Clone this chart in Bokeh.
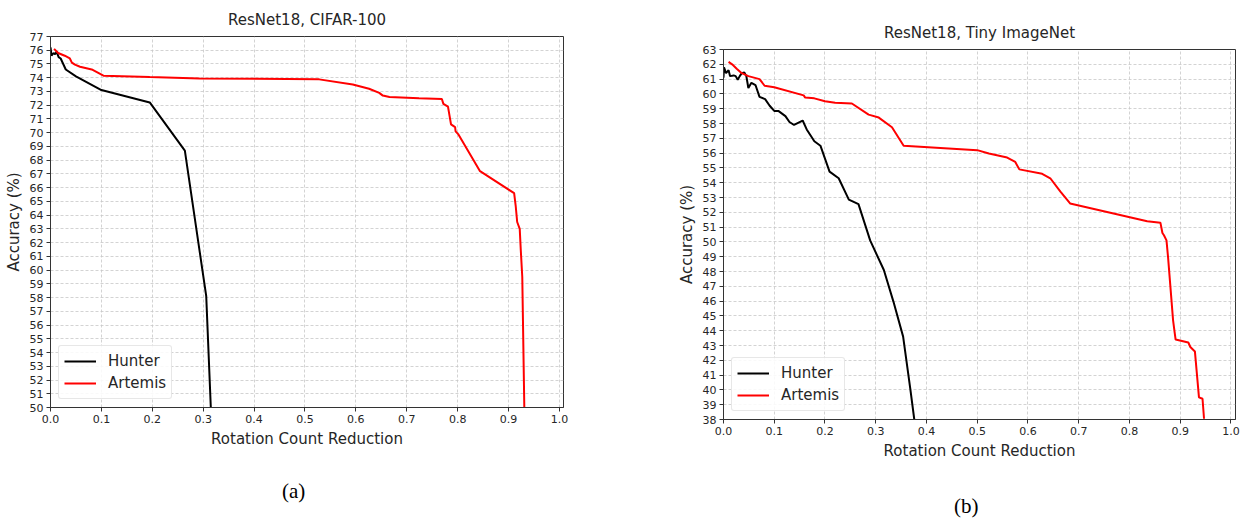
from bokeh.plotting import figure
from bokeh.layouts import row, column, Spacer
from bokeh.models import Range1d, FixedTicker, NumeralTickFormatter, Legend, LegendItem, Div
from bokeh.embed import file_html
from bokeh.resources import INLINE

# ---------------- data ----------------
# (a) ResNet18, CIFAR-100
cifar_hunter_x = [0.0, 0.002, 0.006, 0.009, 0.012, 0.016, 0.02, 0.03, 0.05, 0.1, 0.195, 0.264, 0.306, 0.315]
cifar_hunter_y = [76.2, 75.6, 75.8, 75.7, 75.9, 75.5, 75.4, 74.6, 74.1, 73.1, 72.2, 68.7, 58.1, 50.0]

cifar_artemis_x = [0.007, 0.015, 0.028, 0.038, 0.042, 0.048, 0.058, 0.081, 0.104, 0.195, 0.293, 0.528,
                   0.594, 0.626, 0.646, 0.653, 0.666, 0.724, 0.769, 0.772, 0.781, 0.787, 0.795, 0.796,
                   0.801, 0.844, 0.911, 0.914, 0.917, 0.922, 0.924, 0.927, 0.931]
cifar_artemis_y = [76.1, 75.8, 75.6, 75.4, 75.1, 74.95, 74.8, 74.6, 74.15, 74.05, 73.95, 73.88,
                   73.5, 73.2, 72.9, 72.7, 72.6, 72.5, 72.45, 72.1, 71.9, 70.6, 70.4, 70.1,
                   69.9, 67.2, 65.6, 64.7, 63.5, 63.0, 61.5, 59.5, 50.0]

# (b) ResNet18, Tiny ImageNet
tiny_hunter_x = [0.0, 0.001, 0.005, 0.01, 0.013, 0.02, 0.024, 0.028, 0.032, 0.036, 0.041, 0.045, 0.049,
                 0.055, 0.063, 0.071, 0.082, 0.091, 0.1, 0.108, 0.122, 0.13, 0.139, 0.156, 0.164,
                 0.179, 0.191, 0.209, 0.227, 0.247, 0.266, 0.289, 0.316, 0.335, 0.354, 0.368, 0.376]
tiny_hunter_y = [61.1, 61.8, 61.4, 61.6, 61.2, 61.25, 61.2, 60.95, 61.2, 61.4, 61.45, 61.2, 60.4,
                 60.75, 60.6, 59.8, 59.65, 59.2, 58.85, 58.85, 58.5, 58.1, 57.9, 58.2, 57.6,
                 56.8, 56.5, 54.75, 54.3, 52.86, 52.55, 50.1, 48.1, 45.95, 43.6, 40.1, 38.0]

tiny_artemis_x = [0.01, 0.017, 0.026, 0.036, 0.049, 0.071, 0.081, 0.1, 0.158, 0.161, 0.179, 0.2, 0.22,
                  0.253, 0.286, 0.306, 0.332, 0.355, 0.5, 0.523, 0.559, 0.575, 0.583, 0.628, 0.644,
                  0.664, 0.683, 0.835, 0.861, 0.865, 0.868, 0.873, 0.876, 0.886, 0.889, 0.891, 0.916,
                  0.92, 0.929, 0.937, 0.944, 0.947]
tiny_artemis_y = [62.16, 62.0, 61.7, 61.4, 61.2, 61.0, 60.55, 60.45, 59.9, 59.75, 59.7, 59.5, 59.4,
                  59.35, 58.6, 58.4, 57.75, 56.5, 56.2, 55.97, 55.7, 55.4, 54.9, 54.6, 54.3,
                  53.4, 52.6, 51.4, 51.3, 50.6, 50.45, 50.1, 49.0, 44.7, 43.9, 43.4, 43.2,
                  42.9, 42.6, 39.5, 39.4, 38.05]

x_ticks = [0.0, 0.1, 0.2, 0.3, 0.4, 0.5, 0.6, 0.7, 0.8, 0.9, 1.0]
cifar_y_ticks = list(range(50, 78))
tiny_y_ticks = list(range(38, 64))

FONT = "DejaVu Sans"
TXT = "#262626"
CAP_STYLE = {"font-family": "Liberation Serif", "font-size": "21px", "line-height": "24px",
             "color": "black", "white-space": "nowrap"}


def make_panel(title, hx, hy, ax, ay, xmax, ylo, yhi, yticks,
               fw, fh, bl, br, bb, title_standoff):
    p = figure(frame_width=fw, frame_height=fh, output_backend="svg", toolbar_location=None,
               x_range=Range1d(0, xmax), y_range=Range1d(ylo, yhi),
               min_border_left=bl, min_border_right=br, min_border_top=0, min_border_bottom=bb)
    p.title.text = title
    p.title.align = "center"
    p.title.offset = -12
    p.title.standoff = title_standoff
    p.title.text_font = FONT
    p.title.text_font_size = "15px"
    p.title.text_font_style = "normal"
    p.title.text_color = TXT

    p.outline_line_color = "#333333"
    p.outline_line_width = 1
    p.background_fill_color = "white"
    p.border_fill_color = "white"

    for ax_ in (p.xaxis[0], p.yaxis[0]):
        ax_.axis_line_color = "#333333"
        ax_.major_tick_line_color = "#333333"
        ax_.major_tick_in = 0
        ax_.major_tick_out = 4
        ax_.minor_tick_line_color = None
        ax_.major_label_text_font = FONT
        ax_.major_label_text_font_size = "11px"
        ax_.major_label_text_color = TXT
        ax_.major_label_standoff = 3
        ax_.axis_label_text_font = FONT
        ax_.axis_label_text_font_size = "15px"
        ax_.axis_label_text_font_style = "normal"
        ax_.axis_label_text_color = TXT
        ax_.axis_label_standoff = 4

    p.xaxis.ticker = FixedTicker(ticks=x_ticks)
    p.xaxis.formatter = NumeralTickFormatter(format="0.0")
    p.yaxis.ticker = FixedTicker(ticks=yticks)
    p.xaxis.axis_label = "Rotation Count Reduction"
    p.yaxis.axis_label = "Accuracy (%)"

    p.xgrid.ticker = FixedTicker(ticks=x_ticks)
    p.ygrid.ticker = FixedTicker(ticks=yticks)
    for g in (p.xgrid[0], p.ygrid[0]):
        g.grid_line_color = "#c8c8c8"
        g.grid_line_dash = "3 2"
        g.grid_line_width = 0.8

    r1 = p.line(hx, hy, line_color="black", line_width=2)
    r2 = p.line(ax, ay, line_color="#ff0000", line_width=2)

    leg = Legend(items=[LegendItem(label="Hunter", renderers=[r1]),
                        LegendItem(label="Artemis", renderers=[r2])],
                 location="bottom_left")
    leg.margin = 8
    leg.padding = 5
    leg.spacing = 2
    leg.glyph_width = 32
    leg.glyph_height = 20
    leg.label_height = 20
    leg.label_standoff = 12
    leg.label_text_font = FONT
    leg.label_text_font_size = "15px"
    leg.label_text_color = TXT
    leg.border_line_color = "#d0d0d0"
    leg.border_line_width = 1
    leg.border_radius = 3
    leg.background_fill_alpha = 0.85
    p.add_layout(leg, "center")
    return p


p1 = make_panel("ResNet18, CIFAR-100", cifar_hunter_x, cifar_hunter_y,
                cifar_artemis_x, cifar_artemis_y, 1.008, 50, 77, cifar_y_ticks,
                fw=513, fh=371, bl=50, br=30, bb=48, title_standoff=15)
p2 = make_panel("ResNet18, Tiny ImageNet", tiny_hunter_x, tiny_hunter_y,
                tiny_artemis_x, tiny_artemis_y, 1.009, 38, 63, tiny_y_ticks,
                fw=512, fh=370, bl=130, br=6, bb=48, title_standoff=15)

cap_a = Div(text="(a)", width=40, height=24, margin=0, styles=CAP_STYLE)
cap_b = Div(text="(b)", width=40, height=24, margin=0, styles=CAP_STYLE)

left = column(Spacer(height=1), p1, Spacer(height=24),
              row(Spacer(width=282), cap_a, spacing=0), spacing=0)
right = column(Spacer(height=14), p2, Spacer(height=27),
               row(Spacer(width=361), cap_b, spacing=0), spacing=0)

layout = row(left, right, spacing=0)
open("out.html", "w").write(file_html(layout, INLINE))
